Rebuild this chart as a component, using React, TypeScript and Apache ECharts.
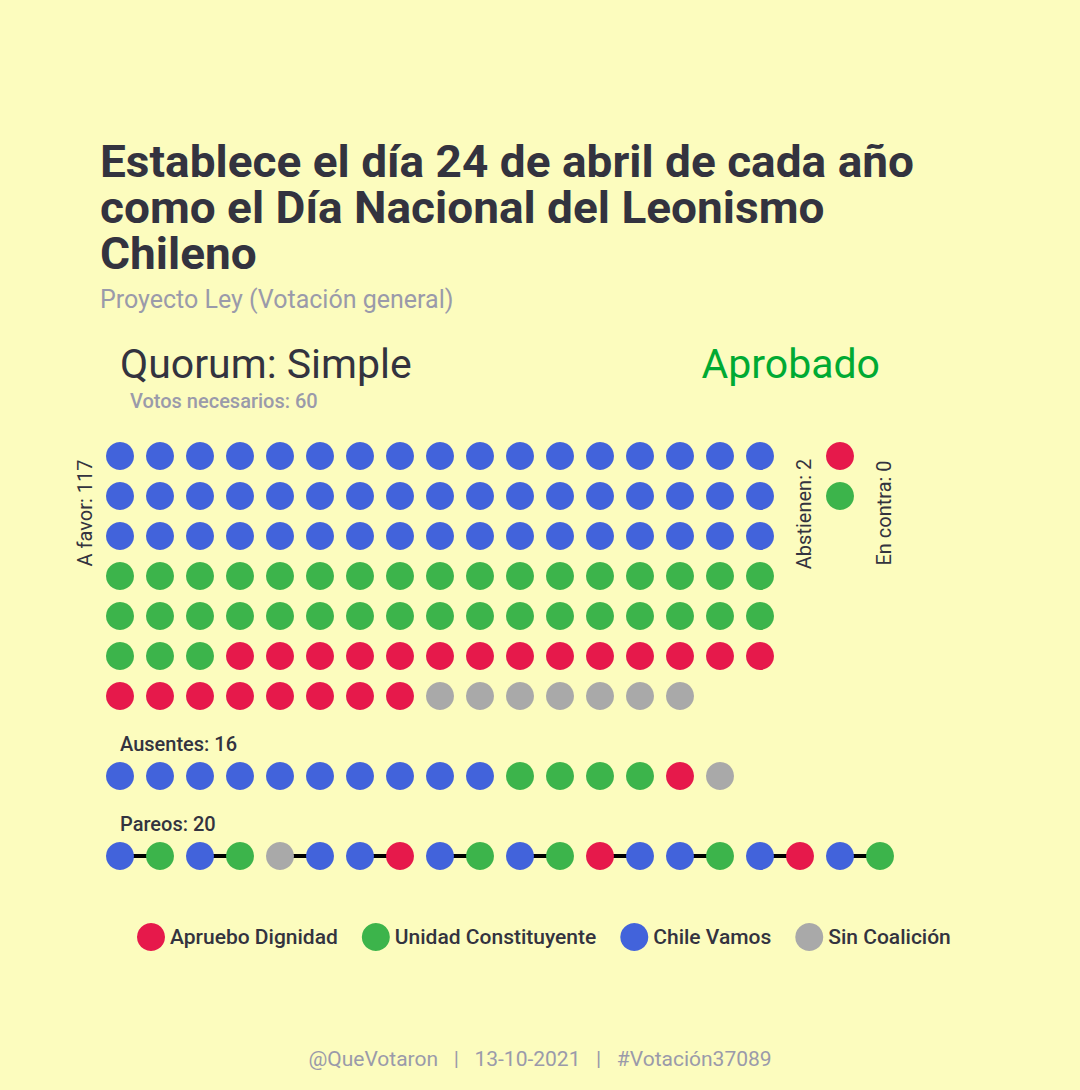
import React, { useEffect, useRef } from "react";
import * as echarts from "echarts";

const coalitionNames: Record<string, string> = {
  AD: "Apruebo Dignidad",
  UC: "Unidad Constituyente",
  CV: "Chile Vamos",
  SC: "Sin Coalición",
};
const coalitionColors: Record<string, string> = {
  AD: "#e6194b",
  UC: "#3cb44b",
  CV: "#4263db",
  SC: "#a9a9a9",
};
const legendOrder = ["AD", "UC", "CV", "SC"];

// A favor: 117, filled row by row (17 per row)
const aFavorOrder = ["CV", "UC", "AD", "SC"];
const aFavorCounts = [51, 37, 22, 7];
// Abstienen: 2
const abstienen = ["AD", "UC"];
// En contra: 0
const enContra: string[] = [];
// Ausentes: 16
const ausentesOrder = ["CV", "UC", "AD", "SC"];
const ausentesCounts = [10, 4, 1, 1];
// Pareos: 20 (10 pairs)
const pareos = [
  ["CV", "UC"], ["CV", "UC"], ["SC", "CV"], ["CV", "AD"], ["CV", "UC"],
  ["CV", "UC"], ["AD", "CV"], ["CV", "UC"], ["CV", "AD"], ["CV", "UC"],
];

const titleLines = [
  "Establece el día 24 de abril de cada año",
  "como el Día Nacional del Leonismo",
  "Chileno",
];

const PER_ROW = 17;

function expand(order: string[], counts: number[]) {
  const out: string[] = [];
  order.forEach((c, i) => {
    for (let k = 0; k < counts[i]; k++) out.push(c);
  });
  return out;
}

export default function App() {
  const ref = useRef<HTMLDivElement>(null);
  useEffect(() => {
    document.body.style.margin = "0";
    const chart = echarts.init(ref.current!, null, { renderer: "svg" });

    const points: Record<string, number[][]> = { AD: [], UC: [], CV: [], SC: [] };
    expand(aFavorOrder, aFavorCounts).forEach((c, k) => {
      points[c].push([k % PER_ROW, Math.floor(k / PER_ROW)]);
    });
    abstienen.forEach((c, k) => points[c].push([18, k]));
    enContra.forEach((c, k) => points[c].push([19, k]));
    expand(ausentesOrder, ausentesCounts).forEach((c, k) => points[c].push([k, 8]));
    const pairLines: any[] = [];
    pareos.forEach((pair, p) => {
      pair.forEach((c, j) => points[c].push([2 * p + j, 10]));
      pairLines.push({ coords: [[2 * p, 10], [2 * p + 1, 10]] });
    });

    const dark = "#33333f";
    const grey = "#9a9aaa";
    const font = "Roboto, 'Noto Sans', sans-serif";

    const option: any = {
      animation: false,
      backgroundColor: "#fcfcbe",
      grid: { left: 100, top: 436, width: 800, height: 440 },
      xAxis: { type: "value", min: -0.5, max: 19.5, show: false },
      yAxis: { type: "value", min: -0.5, max: 10.5, inverse: true, show: false },
      legend: {
        data: legendOrder.map((c) => coalitionNames[c]),
        top: 918,
        left: 132,
        icon: "circle",
        itemWidth: 28,
        itemHeight: 28,
        itemGap: 24,
        textStyle: { fontSize: 21, fontWeight: 500, color: dark, fontFamily: font },
      },
      series: [
        {
          type: "lines",
          coordinateSystem: "cartesian2d",
          data: pairLines,
          lineStyle: { color: "#000", width: 4, opacity: 1 },
          silent: true,
          z: 1,
        },
        ...legendOrder.map((c) => ({
          type: "scatter",
          name: coalitionNames[c],
          data: points[c],
          symbol: "circle",
          symbolSize: 28,
          itemStyle: { color: coalitionColors[c], opacity: 1 },
          z: 3,
        })),
      ],
      graphic: [
        { type: "text", x: 100, y: 139, scaleX: 1.045, style: { text: titleLines.join("\n"), x: 0, y: 0, lineHeight: 46, textVerticalAlign: "top", font: `bold 44px ${font}`, fill: dark } },
        { type: "text", style: { text: "Proyecto Ley (Votación general)", x: 100, y: 299, textVerticalAlign: "middle", font: `25px ${font}`, fill: grey } },
        { type: "text", style: { text: "Quorum: Simple", x: 120, y: 364, textVerticalAlign: "middle", font: `41px ${font}`, fill: dark } },
        { type: "text", style: { text: "Aprobado", x: 880, y: 364, textAlign: "right", textVerticalAlign: "middle", font: `41px ${font}`, fill: "#00aa33" } },
        { type: "text", style: { text: "Votos necesarios: 60", x: 130, y: 401, textVerticalAlign: "middle", font: `500 20px ${font}`, fill: grey } },
        { type: "text", x: 85, y: 513, rotation: Math.PI / 2, style: { text: "A favor: 117", x: 0, y: 0, textAlign: "center", textVerticalAlign: "middle", font: `20px ${font}`, fill: dark } },
        { type: "text", x: 804, y: 514, rotation: Math.PI / 2, style: { text: "Abstienen: 2", x: 0, y: 0, textAlign: "center", textVerticalAlign: "middle", font: `20px ${font}`, fill: dark } },
        { type: "text", x: 884, y: 513, rotation: Math.PI / 2, style: { text: "En contra: 0", x: 0, y: 0, textAlign: "center", textVerticalAlign: "middle", font: `20px ${font}`, fill: dark } },
        { type: "text", style: { text: "Ausentes: 16", x: 120, y: 744, textVerticalAlign: "middle", font: `500 20px ${font}`, fill: dark } },
        { type: "text", style: { text: "Pareos: 20", x: 120, y: 824, textVerticalAlign: "middle", font: `500 20px ${font}`, fill: dark } },
        { type: "text", style: { text: "@QueVotaron   |   13-10-2021   |   #Votación37089", x: 540, y: 1059, textAlign: "center", textVerticalAlign: "middle", font: `21px ${font}`, fill: grey } },
      ],
    };
    chart.setOption(option);
    return () => chart.dispose();
  }, []);
  return <div ref={ref} style={{ width: 1080, height: 1090 }} />;
}
